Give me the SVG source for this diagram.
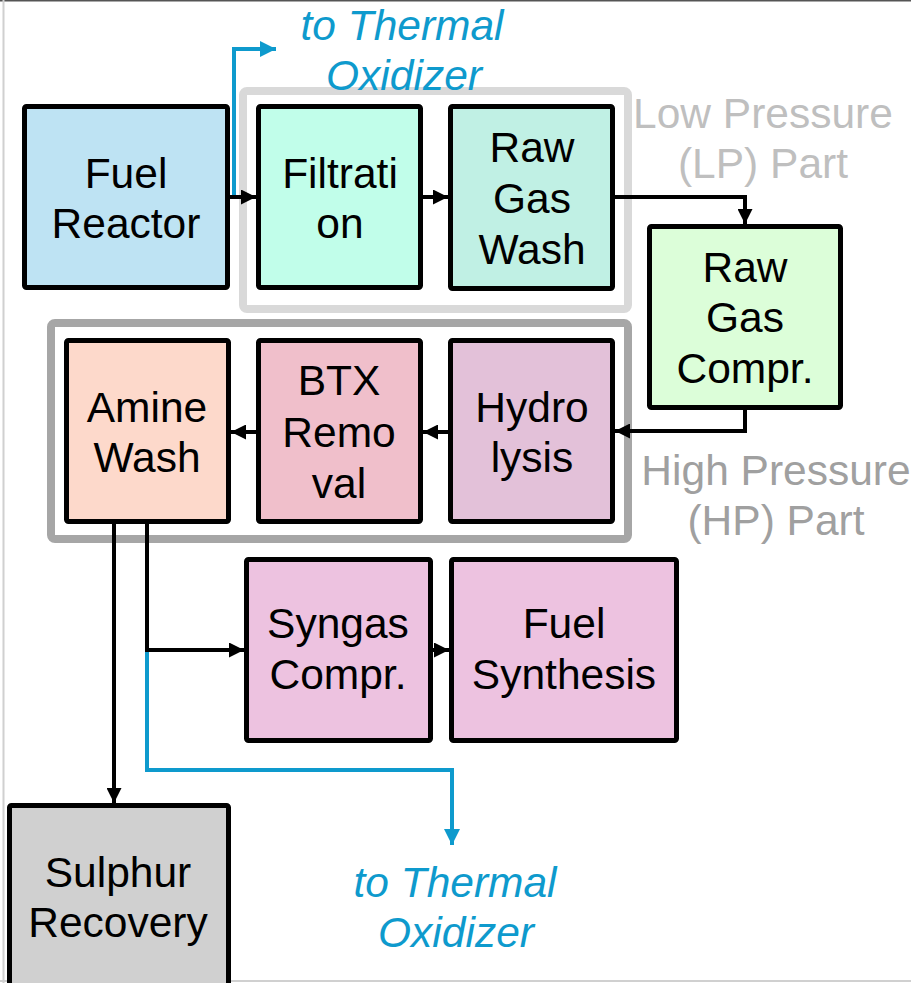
<svg xmlns="http://www.w3.org/2000/svg" width="911" height="983" viewBox="0 0 911 983">
<defs>
<marker id="ab" markerWidth="15" markerHeight="15" refX="15" refY="7.5" orient="auto" markerUnits="userSpaceOnUse"><path d="M0,0 L15,7.5 L0,15 Z" fill="#000"/></marker>
<marker id="abl" markerWidth="16" markerHeight="16" refX="16" refY="8" orient="auto" markerUnits="userSpaceOnUse"><path d="M0,0 L16,8 L0,16 Z" fill="#0E9ACD"/></marker>
</defs>
<style>
text{font-family:"Liberation Sans",Arial,sans-serif;font-size:42.5px;text-anchor:middle}
.box{stroke:#000;stroke-width:5;}
.lbl{fill:#000}
.blue{fill:#0E9ACD;font-style:italic}
.c{fill:none;stroke:#000;stroke-width:4}
.cb{fill:none;stroke:#0E9ACD;stroke-width:4}
</style>
<rect width="911" height="983" fill="#fff"/>
<line x1="0" y1="0.5" x2="911" y2="0.5" stroke="#555" stroke-width="2"/>
<line x1="3.5" y1="0" x2="3.5" y2="983" stroke="#d0d0d0" stroke-width="2"/>
<line x1="0" y1="981" x2="911" y2="981" stroke="#d0d0d0" stroke-width="2"/>

<g id="lp-group">
<rect x="243" y="91" width="385" height="218" rx="4" fill="none" stroke="#D9D9D9" stroke-width="8"/>
<text x="763" y="128" fill="#BFBFBF">Low Pressure</text>
<text x="763" y="178" fill="#BFBFBF">(LP) Part</text>
</g>
<g id="hp-group">
<rect x="51" y="323" width="577" height="216" rx="4" fill="none" stroke="#A6A6A6" stroke-width="8"/>
<text x="776" y="485" fill="#A0A0A0">High Pressure</text>
<text x="776" y="535" fill="#A0A0A0">(HP) Part</text>
</g>

<g id="fuel-reactor"><rect class="box" x="24.5" y="106.5" width="203" height="181" rx="2" fill="#BEE3F3"/><text class="lbl" x="126" y="188">Fuel</text><text class="lbl" x="126" y="238">Reactor</text></g>
<g id="filtration"><rect class="box" x="258.5" y="106.5" width="162" height="181" rx="2" fill="#C1FEEA"/><text class="lbl" x="340" y="188">Filtrati</text><text class="lbl" x="340" y="238">on</text></g>
<g id="raw-gas-wash"><rect class="box" x="450.5" y="106.5" width="162" height="182" rx="2" fill="#C0F0E4"/><text class="lbl" x="532" y="162">Raw</text><text class="lbl" x="532" y="213">Gas</text><text class="lbl" x="532" y="264">Wash</text></g>
<g id="raw-gas-compr"><rect class="box" x="649.5" y="226.5" width="191" height="181" rx="2" fill="#DCFED9"/><text class="lbl" x="745" y="282">Raw</text><text class="lbl" x="745" y="332">Gas</text><text class="lbl" x="745" y="383">Compr.</text></g>
<g id="hydrolysis"><rect class="box" x="450.5" y="340.5" width="162" height="181" rx="2" fill="#E3C1D9"/><text class="lbl" x="532" y="422">Hydro</text><text class="lbl" x="532" y="472">lysis</text></g>
<g id="btx-removal"><rect class="box" x="258.5" y="340.5" width="162" height="181" rx="2" fill="#F0BFCB"/><text class="lbl" x="339" y="395">BTX</text><text class="lbl" x="339" y="447">Remo</text><text class="lbl" x="339" y="498">val</text></g>
<g id="amine-wash"><rect class="box" x="66.5" y="340.5" width="162" height="181" rx="2" fill="#FDD9CB"/><text class="lbl" x="147" y="422">Amine</text><text class="lbl" x="147" y="472">Wash</text></g>
<g id="syngas-compr"><rect class="box" x="246.5" y="559.5" width="184" height="181" rx="2" fill="#EDC2E0"/><text class="lbl" x="338" y="638">Syngas</text><text class="lbl" x="338" y="689">Compr.</text></g>
<g id="fuel-synthesis"><rect class="box" x="451.5" y="559.5" width="225" height="181" rx="2" fill="#EDC2E0"/><text class="lbl" x="564" y="638">Fuel</text><text class="lbl" x="564" y="689">Synthesis</text></g>
<g id="sulphur-recovery"><rect class="box" x="9.5" y="805.5" width="219" height="190" rx="2" fill="#D0D0D0"/><text class="lbl" x="118" y="887">Sulphur</text><text class="lbl" x="118" y="937">Recovery</text></g>

<g id="oxidizer-top"><text class="blue" x="402" y="40">to Thermal</text><text class="blue" x="404" y="90">Oxidizer</text></g>
<g id="oxidizer-bottom"><text class="blue" x="455" y="897">to Thermal</text><text class="blue" x="456" y="947">Oxidizer</text></g>

<g id="connectors">
<path class="cb" d="M234,195 V49 H276" marker-end="url(#abl)"/>
<path class="c" d="M228,197 H256" marker-end="url(#ab)"/>
<path class="c" d="M421,197 H448" marker-end="url(#ab)"/>
<path class="c" d="M613,197 H745 V224" marker-end="url(#ab)"/>
<path class="c" d="M745,408 V431 H615" marker-end="url(#ab)"/>
<path class="c" d="M450,432 H423" marker-end="url(#ab)"/>
<path class="c" d="M258,432 H231" marker-end="url(#ab)"/>
<path class="c" d="M114,522 V803" marker-end="url(#ab)"/>
<path class="c" d="M147,522 V650 H244" marker-end="url(#ab)"/>
<path class="cb" d="M147,652 V770 H452 V845" marker-end="url(#abl)"/>
<path class="c" d="M430,650 H449" marker-end="url(#ab)"/>
</g>
</svg>
